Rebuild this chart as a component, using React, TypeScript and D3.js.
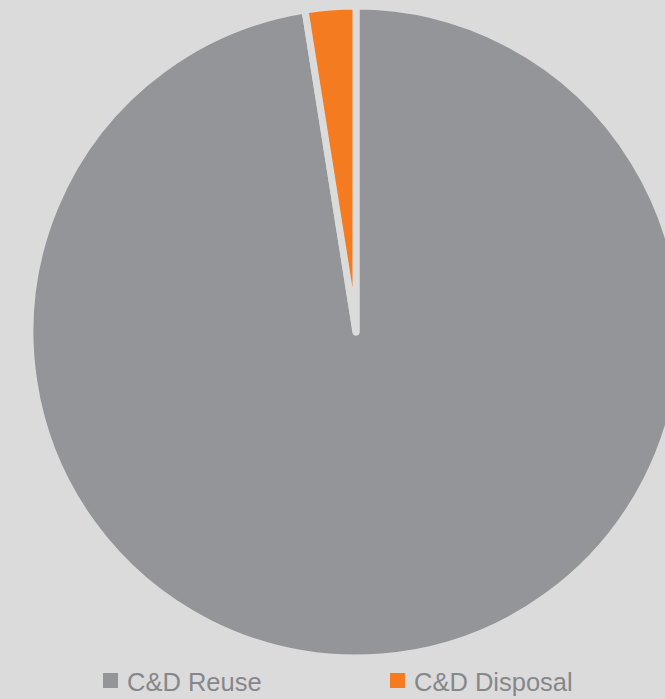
import React from "react";
import * as d3 from "d3";

const categories = ["C&D Reuse", "C&D Disposal"];
const values = [97.5, 2.5];
const colors = ["#939598", "#f47b20"];

const W = 665;
const H = 699;

export default function App() {
  const cx = 356;
  const cy = 332;
  const r = 326;
  const pie = d3.pie<number>().sort(null).value((d) => d);
  const arcs = pie(values);
  const arc = d3.arc<d3.PieArcDatum<number>>().innerRadius(0).outerRadius(r);
  const legendX = [103, 390];
  return (
    <svg
      width={W}
      height={H}
      style={{ position: "fixed", left: 0, top: 0, background: "#dcdbdc", display: "block" }}
    >
      <rect x={0} y={0} width={W} height={H} fill="#dcdbdc" />
      <g transform={`translate(${cx},${cy})`}>
        {arcs.map((a, i) => (
          <path
            key={categories[i]}
            d={arc(a) || ""}
            fill={colors[i]}
            stroke="#dcdbdc"
            strokeWidth={7}
            strokeLinejoin="round"
          />
        ))}
      </g>
      {categories.map((c, i) => (
        <g key={c} transform={`translate(${legendX[i]},673)`}>
          <rect x={0} y={0} width={15} height={15} fill={colors[i]} />
          <text
            x={24}
            y={18}
            fontFamily="'Liberation Sans', Arial, sans-serif"
            fontSize={25.5}
            fill="#86878a"
          >
            {c}
          </text>
        </g>
      ))}
    </svg>
  );
}
